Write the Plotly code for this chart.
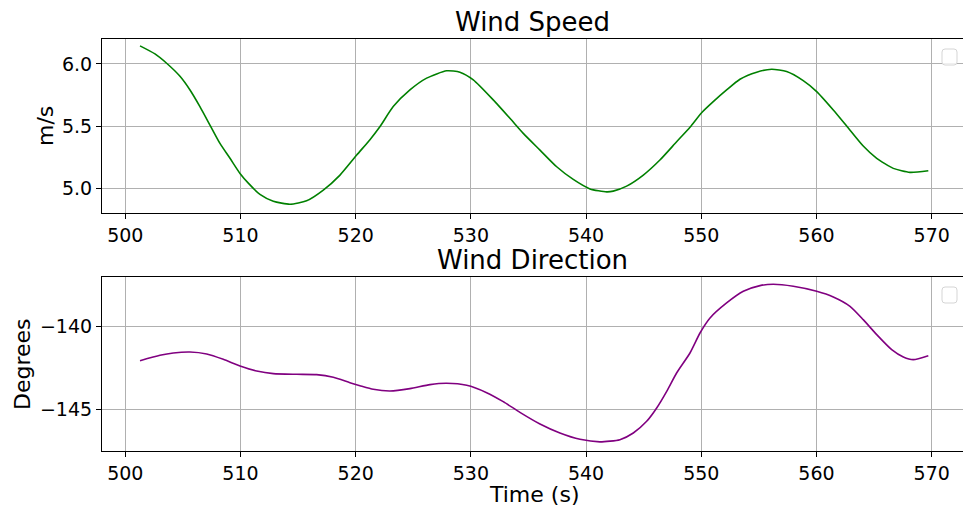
import plotly.graph_objects as go
from plotly.subplots import make_subplots

# Wind speed (m/s)
speed_t = [501.28, 502.58, 503.59, 504.75, 505.62, 506.48, 507.35, 508.22, 509.09, 509.96, 510.68,
           511.69, 512.85, 514.30, 515.74, 517.19, 518.64, 520.09, 521.24, 522.10, 523.26, 524.71,
           526.16, 527.90, 529.05, 530.21, 531.94, 533.39, 534.55, 536.00, 537.45, 538.89, 540.34,
           541.79, 542.36, 543.52, 544.97, 546.41, 547.86, 549.02, 550.03, 551.04, 552.20, 553.36,
           554.81, 556.11, 557.41, 558.85, 560.02, 561.46, 562.62, 564.06, 565.23, 566.67, 568.12,
           569.71]
speed_v = [6.145, 6.08, 6.005, 5.90, 5.79, 5.656, 5.508, 5.36, 5.24, 5.118, 5.04,
           4.95, 4.895, 4.871, 4.898, 4.984, 5.105, 5.266, 5.39, 5.494, 5.656, 5.79,
           5.885, 5.944, 5.933, 5.871, 5.71, 5.562, 5.441, 5.306, 5.172, 5.07, 4.994,
           4.97, 4.976, 5.016, 5.105, 5.226, 5.373, 5.49, 5.607, 5.696, 5.79, 5.876,
           5.933, 5.957, 5.938, 5.865, 5.777, 5.629, 5.50, 5.339, 5.24, 5.159, 5.127,
           5.14]

# Wind direction (degrees)
dir_t = [501.28, 503.01, 504.17, 505.62, 507.07, 508.51, 509.96, 511.41, 512.85, 514.88, 516.61,
         518.06, 519.50, 520.37, 521.53, 522.98, 524.71, 526.45, 527.90, 529.64, 531.37, 532.81,
         534.26, 536.00, 537.73, 539.47, 541.20, 542.94, 544.10, 545.26, 546.13, 547.00, 547.86,
         549.02, 549.89, 550.76, 552.20, 553.65, 555.10, 556.25, 557.99, 560.02, 561.46, 562.91,
         564.06, 565.23, 566.53, 567.54, 568.40, 569.71]
dir_v = [-142.06, -141.74, -141.60, -141.54, -141.66, -141.98, -142.38, -142.68, -142.84, -142.88, -142.90,
         -143.06, -143.38, -143.56, -143.78, -143.88, -143.74, -143.50, -143.42, -143.54, -143.98, -144.52,
         -145.16, -145.86, -146.40, -146.78, -146.93, -146.80, -146.40, -145.70, -144.90, -143.90, -142.80,
         -141.60, -140.40, -139.50, -138.60, -137.90, -137.56, -137.48, -137.60, -137.90, -138.24, -138.80,
         -139.60, -140.50, -141.40, -141.84, -142.00, -141.76]

x_ticks = [500, 510, 520, 530, 540, 550, 560, 570]
speed_ticks = [5.0, 5.5, 6.0]
dir_ticks = [-145, -140]

W, H = 963, 513
FONT = "DejaVu Sans"

fig = make_subplots(rows=2, cols=1)
fig.add_trace(go.Scatter(x=speed_t, y=speed_v, mode="lines",
                         line=dict(color="green", width=1.6, shape="spline", smoothing=0.6),
                         showlegend=False), row=1, col=1)
fig.add_trace(go.Scatter(x=dir_t, y=dir_v, mode="lines",
                         line=dict(color="purple", width=1.6, shape="spline", smoothing=0.6),
                         showlegend=False), row=2, col=1)

xcommon = dict(range=[497.98, 572.72], tickvals=x_ticks, ticktext=[str(v) for v in x_ticks],
               showgrid=True, gridcolor="#b0b0b0", gridwidth=1, zeroline=False,
               showline=True, linecolor="black", linewidth=1.2, mirror=True,
               ticks="outside", ticklen=5, tickcolor="black",
               tickfont=dict(family=FONT, size=19, color="black"))
ycommon = dict(showgrid=True, gridcolor="#b0b0b0", gridwidth=1, zeroline=False,
               showline=True, linecolor="black", linewidth=1.2,
               ticks="outside", ticklen=5, tickcolor="black",
               tickfont=dict(family=FONT, size=19, color="black"))

fig.update_xaxes(**xcommon)
fig.update_yaxes(**ycommon)
fig.update_xaxes(domain=[102 / W, 1.0], row=1, col=1)
fig.update_xaxes(domain=[102 / W, 1.0], row=2, col=1)
fig.update_yaxes(domain=[1 - 213 / H, 1 - 39 / H], range=[4.80, 6.20],
                 tickvals=speed_ticks, ticktext=["5.0", "5.5", "6.0"], row=1, col=1)
fig.update_yaxes(domain=[1 - 451 / H, 1 - 277.3 / H], range=[-147.48, -137.06],
                 tickvals=dir_ticks, ticktext=["\u2212145", "\u2212140"], row=2, col=1)

ann = []
def txt(text, x, y, size, angle=0):
    ann.append(dict(text=text, x=x / W, y=1 - y / H, xref="paper", yref="paper",
                    showarrow=False, xanchor="center", yanchor="middle", textangle=angle,
                    font=dict(family=FONT, size=size, color="black")))

txt("Wind Speed", 532.5, 22, 26)
txt("Wind Direction", 532.5, 260, 26)
txt("m/s", 45, 126, 22, -90)
txt("Degrees", 22, 364, 22, -90)
txt("Time (s)", 534, 494, 22)

def rbox(x0, y0, x1, y1, r=3):
    X0, X1 = x0 / W, x1 / W
    Y0, Y1 = 1 - y1 / H, 1 - y0 / H
    rx, ry = r / W, r / H
    p = (f"M {X0+rx},{Y0} L {X1-rx},{Y0} Q {X1},{Y0} {X1},{Y0+ry} L {X1},{Y1-ry} "
         f"Q {X1},{Y1} {X1-rx},{Y1} L {X0+rx},{Y1} Q {X0},{Y1} {X0},{Y1-ry} "
         f"L {X0},{Y0+ry} Q {X0},{Y0} {X0+rx},{Y0} Z")
    return dict(type="path", path=p, xref="paper", yref="paper",
                line=dict(color="#d5d5d5", width=1), fillcolor="rgba(255,255,255,0.8)")

fig.update_layout(
    width=W, height=H,
    margin=dict(l=0, r=0, t=0, b=0),
    paper_bgcolor="white", plot_bgcolor="white",
    annotations=ann,
    shapes=[rbox(942, 49, 957, 65), rbox(942, 287, 957, 303)],
    showlegend=False,
)

fig.write_html("out.html", config={"displayModeBar": False},
               post_script="document.body.style.margin='0';document.body.style.overflow='hidden';")
